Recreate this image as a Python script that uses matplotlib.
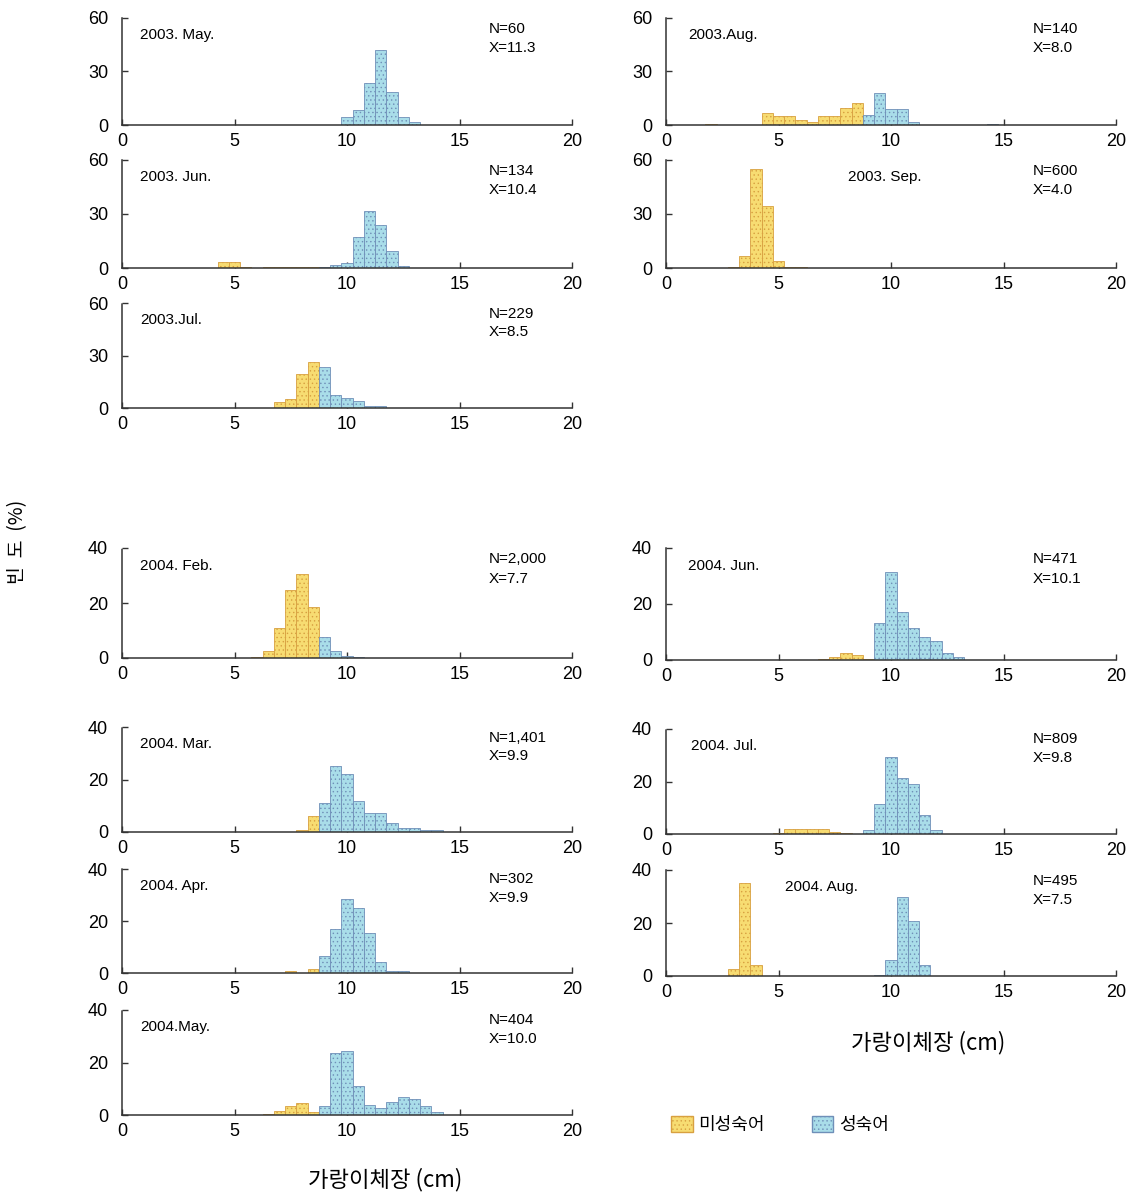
import matplotlib.pyplot as plt
from matplotlib.patches import Patch

plt.rcParams['font.family'] = ['Liberation Sans', 'Noto Sans CJK KR', 'DejaVu Sans']
plt.rcParams['hatch.linewidth'] = 0.5

# ---- data: length class (cm), immature %, mature % ----
may03_len = [10.0, 10.5, 11.0, 11.5, 12.0, 12.5, 13.0]
may03_imm = [0, 0, 0, 0, 0, 0, 0]
may03_mat = [4.4, 8.3, 23.4, 42.3, 18.5, 4.4, 1.8]

jun03_len = [4.5, 5.0, 5.5, 6.5, 7.0, 7.5, 8.0, 8.5, 9.0, 9.5, 10.0, 10.5, 11.0, 11.5, 12.0, 12.5]
jun03_imm = [3.2, 3.2, 0.8, 0.7, 0.7, 0.7, 0.7, 0.7, 0, 0, 0, 0, 0, 0, 0, 0]
jun03_mat = [0, 0, 0, 0, 0, 0, 0, 0, 0.5, 1.5, 3.0, 17.0, 31.5, 24.0, 9.3, 1.3]

jul03_len = [7.0, 7.5, 8.0, 8.5, 9.0, 9.5, 10.0, 10.5, 11.0, 11.5]
jul03_imm = [3.7, 5.4, 19.5, 26.2, 0, 0, 0, 0, 0, 0]
jul03_mat = [0, 0, 0, 0, 23.4, 7.6, 5.6, 3.9, 1.4, 0.9]

aug03_len = [2.0, 4.5, 5.0, 5.5, 6.0, 6.5, 7.0, 7.5, 8.0, 8.5, 9.0, 9.5, 10.0, 10.5, 11.0, 14.5]
aug03_imm = [0.4, 6.5, 5.2, 5.2, 2.8, 1.5, 5.2, 5.2, 9.3, 12.5, 0, 0, 0, 0, 0, 0]
aug03_mat = [0, 0, 0, 0, 0, 0, 0, 0, 0, 0, 5.6, 17.7, 8.9, 8.9, 1.5, 0.3]

sep03_len = [3.0, 3.5, 4.0, 4.5, 5.0, 5.5, 6.0]
sep03_imm = [0.6, 6.7, 54.8, 34.2, 3.7, 0.6, 0.6]
sep03_mat = [0, 0, 0, 0, 0, 0, 0]

feb04_len = [6.0, 6.5, 7.0, 7.5, 8.0, 8.5, 9.0, 9.5, 10.0, 10.5]
feb04_imm = [0.4, 2.7, 10.8, 24.8, 30.4, 18.5, 0, 0, 0, 0]
feb04_mat = [0, 0, 0, 0, 0, 0, 7.6, 2.7, 0.8, 0.4]

mar04_len = [8.0, 8.5, 9.0, 9.5, 10.0, 10.5, 11.0, 11.5, 12.0, 12.5, 13.0, 13.5, 14.0]
mar04_imm = [0.9, 6.2, 0, 0, 0, 0, 0, 0, 0, 0, 0, 0, 0]
mar04_mat = [0, 0, 11.1, 25.2, 22.2, 12.0, 7.4, 7.4, 3.3, 1.7, 1.7, 0.9, 0.9]

apr04_len = [7.5, 8.5, 9.0, 9.5, 10.0, 10.5, 11.0, 11.5, 12.0, 12.5]
apr04_imm = [0.8, 1.5, 0, 0, 0, 0, 0, 0, 0, 0]
apr04_mat = [0, 0, 6.6, 17.0, 28.4, 24.9, 15.4, 4.1, 0.8, 0.8]

may04_len = [6.5, 7.0, 7.5, 8.0, 8.5, 9.0, 9.5, 10.0, 10.5, 11.0, 11.5, 12.0, 12.5, 13.0, 13.5, 14.0]
may04_imm = [0.5, 1.5, 3.5, 4.5, 1.2, 0, 0, 0, 0, 0, 0, 0, 0, 0, 0, 0]
may04_mat = [0, 0, 0, 0, 0, 3.5, 23.5, 24.5, 11.0, 4.0, 2.5, 5.0, 6.8, 6.0, 3.5, 1.0]

jun04_len = [7.0, 7.5, 8.0, 8.5, 9.0, 9.5, 10.0, 10.5, 11.0, 11.5, 12.0, 12.5, 13.0]
jun04_imm = [0.5, 1.2, 2.4, 1.8, 0.5, 0, 0, 0, 0, 0, 0, 0, 0]
jun04_mat = [0, 0, 0, 0, 0, 13.3, 31.6, 17.3, 11.6, 8.2, 6.7, 2.4, 1.0]

jul04_len = [5.0, 5.5, 6.0, 6.5, 7.0, 7.5, 8.0, 9.0, 9.5, 10.0, 10.5, 11.0, 11.5, 12.0]
jul04_imm = [0.5, 1.8, 1.8, 1.8, 1.8, 0.6, 0.5, 0, 0, 0, 0, 0, 0, 0]
jul04_mat = [0, 0, 0, 0, 0, 0, 0, 1.5, 11.3, 29.3, 21.3, 18.9, 7.2, 1.5]

aug04_len = [3.0, 3.5, 4.0, 9.5, 10.0, 10.5, 11.0, 11.5]
aug04_imm = [2.5, 35.2, 4.2, 0, 0, 0, 0, 0]
aug04_mat = [0, 0, 0, 0.5, 5.9, 29.8, 20.8, 4.0]

# label, N, mean, lengths, immature, mature, ymax, label x (cm)
panels = [
    ('2003. May.', 'N=60', 'X=11.3', may03_len, may03_imm, may03_mat, 60, 0.8),
    ('2003. Jun.', 'N=134', 'X=10.4', jun03_len, jun03_imm, jun03_mat, 60, 0.8),
    ('2003.Jul.', 'N=229', 'X=8.5', jul03_len, jul03_imm, jul03_mat, 60, 0.8),
    ('2003.Aug.', 'N=140', 'X=8.0', aug03_len, aug03_imm, aug03_mat, 60, 1.0),
    ('2003. Sep.', 'N=600', 'X=4.0', sep03_len, sep03_imm, sep03_mat, 60, 8.1),
    ('2004. Feb.', 'N=2,000', 'X=7.7', feb04_len, feb04_imm, feb04_mat, 40, 0.8),
    ('2004. Mar.', 'N=1,401', 'X=9.9', mar04_len, mar04_imm, mar04_mat, 40, 0.8),
    ('2004. Apr.', 'N=302', 'X=9.9', apr04_len, apr04_imm, apr04_mat, 40, 0.8),
    ('2004.May.', 'N=404', 'X=10.0', may04_len, may04_imm, may04_mat, 40, 0.8),
    ('2004. Jun.', 'N=471', 'X=10.1', jun04_len, jun04_imm, jun04_mat, 40, 1.0),
    ('2004. Jul.', 'N=809', 'X=9.8', jul04_len, jul04_imm, jul04_mat, 40, 1.1),
    ('2004. Aug.', 'N=495', 'X=7.5', aug04_len, aug04_imm, aug04_mat, 40, 5.3),
]

# pixel boxes: (x left, y of max, y of zero)
boxes = [
    (122, 18, 125), (122, 160, 268), (122, 303, 408),
    (666, 18, 125), (666, 160, 268),
    (122, 548, 658), (122, 727, 832), (122, 869, 973), (122, 1010, 1115),
    (666, 548, 660), (666, 729, 834), (666, 870, 976),
]

W, H = 1134, 1200
YEL, YEL_E = '#f7dc72', '#d8a040'
BLU, BLU_E = '#a9dde9', '#6f8fb8'

fig = plt.figure(figsize=(W / 100, H / 100), dpi=100)

for (lab, ntxt, xtxt, lens, imm, mat, ymax, lx), (px, ptop, pbot) in zip(panels, boxes):
    ax = fig.add_axes([px / W, 1 - pbot / H, 450 / W, (pbot - ptop) / H])
    li = [(l, v) for l, v in zip(lens, imm) if v > 0]
    lm = [(l, v, b) for l, v, b in zip(lens, mat, imm) if v > 0]
    if li:
        ax.bar([a for a, _ in li], [b for _, b in li], width=0.5, color=YEL,
               edgecolor=YEL_E, hatch='....', linewidth=0.6, zorder=3)
    if lm:
        ax.bar([a for a, _, _ in lm], [b for _, b, _ in lm], bottom=[c for _, _, c in lm],
               width=0.5, color=BLU, edgecolor=BLU_E, hatch='....', linewidth=0.6, zorder=3)

    ax.set_xlim(0, 20)
    ax.set_ylim(0, ymax)
    ax.set_xticks([0, 5, 10, 15, 20])
    ax.set_yticks([0, ymax // 2, ymax])
    ax.spines['top'].set_visible(False)
    ax.spines['right'].set_visible(False)
    for s in ('left', 'bottom'):
        ax.spines[s].set_linestyle((0, (2, 1)))
        ax.spines[s].set_color('#333333')
        ax.spines[s].set_linewidth(1.1)
        ax.spines[s].set_zorder(4)
    ax.tick_params(direction='in', length=4, width=1, labelsize=13, color='#333333')
    ax.tick_params(axis='x', pad=6)
    ax.tick_params(axis='y', pad=10)
    ax.patch.set_alpha(0)

    tr = ax.get_xaxis_transform()
    ax.text(lx, 0.84, lab, transform=tr, fontsize=11, va='center')
    ax.text(16.3, 0.90, ntxt, transform=tr, fontsize=11, va='center')
    ax.text(16.3, 0.72, xtxt, transform=tr, fontsize=11, va='center')

fig.text(18 / W, 1 - 542 / H, '빈  도  (%)', rotation=90, fontsize=14,
         ha='center', va='center', family=['Noto Sans CJK KR'])
fig.text(385 / W, 1 - 1180 / H, '가랑이체장 (cm)', fontsize=16,
         ha='center', va='center', family=['Noto Sans CJK KR'])
fig.text(928 / W, 1 - 1043 / H, '가랑이체장 (cm)', fontsize=16,
         ha='center', va='center', family=['Noto Sans CJK KR'])

handles = [Patch(facecolor=YEL, edgecolor=YEL_E, hatch='....', label='미성숙어'),
           Patch(facecolor=BLU, edgecolor=BLU_E, hatch='....', label='성숙어')]
fig.legend(handles=handles, loc='center left', bbox_to_anchor=(655 / W, 1 - 1125 / H),
           ncol=2, frameon=False, handlelength=1.2, handleheight=1.0,
           columnspacing=2.6, handletextpad=0.3, prop={'family': ['Noto Sans CJK KR'], 'size': 13})

fig.savefig('out.png', dpi=100)
